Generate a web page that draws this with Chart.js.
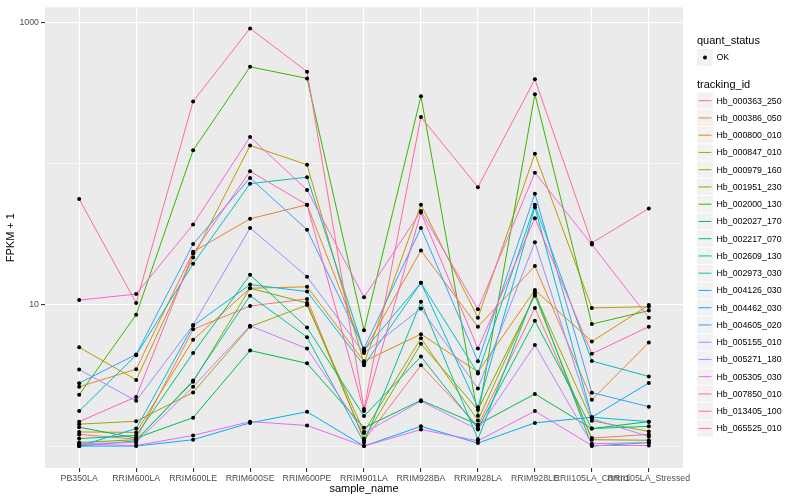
<!DOCTYPE html>
<html>
<head>
<meta charset="utf-8">
<title>FPKM by sample</title>
<script src="https://cdn.jsdelivr.net/npm/chart.js@4.4.0/dist/chart.umd.min.js"></script>
<style>
  html, body { margin: 0; padding: 0; background: #fff; }
  #wrap { width: 800px; height: 500px; }
</style>
</head>
<body>
<div id="wrap"><canvas id="chart" width="800" height="500"></canvas></div>
<script>
// --- data (FPKM + 1) ---
const samples = ['PB350LA', 'RRIM600LA', 'RRIM600LE', 'RRIM600SE', 'RRIM600PE', 'RRIM901LA',
                 'RRIM928BA', 'RRIM928LA', 'RRIM928LE', 'RRII105LA_Control', 'RRII105LA_Stressed'];

const trackingIds = ['Hb_000363_250', 'Hb_000386_050', 'Hb_000800_010', 'Hb_000847_010', 'Hb_000979_160',
                     'Hb_001951_230', 'Hb_002000_130', 'Hb_002027_170', 'Hb_002217_070', 'Hb_002609_130',
                     'Hb_002973_030', 'Hb_004126_030', 'Hb_004462_030', 'Hb_004605_020', 'Hb_005155_010',
                     'Hb_005271_180', 'Hb_005305_030', 'Hb_007850_010', 'Hb_013405_100', 'Hb_065525_010'];

// ggplot default hue palette for 20 groups
const lineColors = ['#F8766D', '#EA8331', '#D89000', '#C09B00', '#A3A500', '#7CAE00', '#39B600', '#00BB4E',
                    '#00BF7D', '#00C1A3', '#00BFC4', '#00BAE0', '#00B0F6', '#35A2FF', '#9590FF', '#C77CFF',
                    '#E76BF3', '#FA62DB', '#FF62BC', '#FF6C91'];

const hb000363_250 = [1.21, 1.12, 6.7, 9.8, 11.0, 1.10, 3.73, 1.39, 9.5, 1.14, 1.21];
const hb000386_050 = [2.63, 3.5, 23.7, 40.6, 51, 4.7, 24.2, 7.0, 18.8, 2.13, 5.4];
const hb000800_010 = [1.26, 1.25, 5.65, 13.1, 13.4, 3.98, 6.2, 3.35, 12.7, 5.5, 9.95];
const hb000847_010 = [5.0, 2.94, 21.6, 134, 98, 3.85, 51, 8.1, 117, 9.5, 9.7];
const hb000979_160 = [1.43, 1.50, 2.40, 7.0, 9.95, 1.26, 5.8, 1.52, 11.9, 1.51, 1.27];
const hb001951_230 = [1.06, 1.11, 2.85, 13.1, 10.3, 1.13, 5.3, 1.81, 11.6, 1.11, 1.10];
const hb002000_130 = [2.31, 8.5, 124, 483, 400, 6.6, 299, 1.64, 309, 7.3, 9.1];
const hb002027_170 = [1.36, 1.14, 1.59, 4.75, 3.85, 1.35, 2.11, 1.42, 2.34, 1.33, 1.49];
const hb002217_070 = [1.13, 1.19, 4.55, 16.3, 6.9, 1.63, 4.3, 1.33, 7.7, 1.33, 1.38];
const hb002609_130 = [1.0, 1.09, 2.91, 11.6, 5.9, 1.06, 10.5, 1.12, 12.3, 1.0, 1.06];
const hb002973_030 = [1.77, 4.4, 19.5, 72, 80, 4.75, 14.3, 3.27, 51, 4.0, 3.11];
const hb004126_030 = [1.0, 1.33, 7.1, 13.9, 12.4, 3.73, 14.3, 1.88, 49, 1.60, 1.49];
const hb004462_030 = [1.0, 1.0, 1.11, 1.46, 1.75, 1.0, 1.38, 1.05, 1.46, 1.60, 2.8];
const hb004605_020 = [2.79, 4.45, 26.9, 79, 34, 4.9, 35, 3.98, 61, 2.39, 1.90];
const hb005155_010 = [3.48, 2.09, 7.2, 35, 15.8, 4.55, 9.4, 2.56, 27.7, 1.56, 1.17];
const hb005271_180 = [1.04, 1.06, 2.63, 7.1, 4.9, 1.24, 2.08, 1.31, 5.2, 1.04, 1.06];
const hb005305_030 = [1.03, 1.01, 1.19, 1.49, 1.40, 1.0, 1.31, 1.09, 1.77, 1.01, 1.01];
const hb007850_010 = [10.8, 11.9, 37, 154, 65, 11.3, 46, 9.3, 86, 26.7, 8.1];
const hb013405_100 = [1.49, 2.23, 23.1, 88, 51, 1.77, 45, 4.9, 41, 4.5, 7.0];
const hb065525_010 = [56, 10.3, 275, 903, 446, 1.83, 213, 68, 394, 27.4, 48];

const seriesValues = [hb000363_250, hb000386_050, hb000800_010, hb000847_010, hb000979_160,
                      hb001951_230, hb002000_130, hb002027_170, hb002217_070, hb002609_130,
                      hb002973_030, hb004126_030, hb004462_030, hb004605_020, hb005155_010,
                      hb005271_180, hb005305_030, hb007850_010, hb013405_100, hb065525_010];

const quantStatus = ['OK'];
const yTicks = [1, 10, 100, 1000];      // 1 and 100 are minor grid lines
const yMajor = [10, 1000];
// ---------------------------------------------

const FONT = '"Liberation Sans", Arial, Helvetica, sans-serif';

// one line per tracking_id, drawn in ggplot order (later groups on top)
const datasets = seriesValues.map((vals, i) => ({
    type: 'line',
    label: trackingIds[i],
    data: vals.map((v, j) => ({ x: j, y: v })),
    borderColor: lineColors[i],
    borderWidth: 1,
    pointRadius: 0,
    tension: 0,
    fill: false,
    order: 100 - i
}));

// the black points (quant_status = OK) sit on top of every line
datasets.push({
    type: 'scatter',
    label: quantStatus[0],
    data: seriesValues.flatMap(vals => vals.map((v, j) => ({ x: j, y: v }))),
    backgroundColor: '#000',
    borderColor: '#000',
    borderWidth: 0,
    pointRadius: 2,
    order: -1
});

// grey panel like theme_gray
const panelBg = {
    id: 'panelBg',
    beforeDraw(chart) {
        const { ctx, chartArea: a } = chart;
        ctx.save();
        ctx.fillStyle = '#fff';
        ctx.fillRect(0, 0, chart.width, chart.height);
        ctx.fillStyle = '#EBEBEB';
        ctx.fillRect(a.left, a.top, a.right - a.left, a.bottom - a.top);
        ctx.restore();
    }
};

// ggplot style legend on the right
const ggLegend = {
    id: 'ggLegend',
    afterDraw(chart) {
        const c = chart.ctx;
        const x0 = 697, boxW = 16, step = 17.25;
        c.save();
        c.fillStyle = '#000';
        c.font = '11px ' + FONT;
        c.textBaseline = 'alphabetic';
        c.fillText('quant_status', x0, 44);

        c.fillStyle = '#F2F2F2';
        c.fillRect(x0, 49, boxW, 17);
        c.fillStyle = '#000';
        c.beginPath();
        c.arc(x0 + boxW / 2, 57.5, 2, 0, Math.PI * 2);
        c.fill();
        c.font = '8.8px ' + FONT;
        c.textBaseline = 'middle';
        c.fillText(quantStatus[0], 716.5, 58);

        c.font = '11px ' + FONT;
        c.textBaseline = 'alphabetic';
        c.fillText('tracking_id', x0, 88);

        c.font = '8.8px ' + FONT;
        c.textBaseline = 'middle';
        chart.data.datasets.forEach((ds, i) => {
            if (ds.type !== 'line') return;
            const cy = 100.7 + step * i;
            c.fillStyle = '#F2F2F2';
            c.fillRect(x0, cy - step / 2 + 0.5, boxW, step - 1);
            c.strokeStyle = ds.borderColor;
            c.lineWidth = 1;
            c.beginPath();
            c.moveTo(x0 + 1.5, cy);
            c.lineTo(x0 + boxW - 1.5, cy);
            c.stroke();
            c.fillStyle = '#000';
            c.fillText(ds.label, 716.5, cy + 0.5);
        });
        c.restore();
    }
};

const isMajor = ctx => ctx.tick && yMajor.includes(ctx.tick.value);

new Chart(document.getElementById('chart'), {
    type: 'line',
    data: { datasets },
    options: {
        responsive: false,
        animation: false,
        layout: { padding: { top: 5, right: 117, left: 0, bottom: 0 } },
        plugins: {
            legend: { display: false },
            tooltip: { enabled: false }
        },
        scales: {
            x: {
                type: 'linear',
                min: -0.6,
                max: samples.length - 1 + 0.6,
                afterBuildTicks: s => { s.ticks = samples.map((_, i) => ({ value: i })); },
                afterFit: s => { s.height = 32; },
                border: { display: false },
                grid: { color: '#fff', lineWidth: 1.1, tickLength: 4, tickColor: '#333' },
                ticks: {
                    autoSkip: false, maxRotation: 0, minRotation: 0, padding: 1,
                    color: '#4D4D4D', font: { family: FONT, size: 8.8 },
                    callback: v => samples[v]
                },
                title: {
                    display: true, text: 'sample_name', color: '#000',
                    font: { family: FONT, size: 11 }, padding: { top: 0, bottom: 4 }
                }
            },
            y: {
                type: 'logarithmic',
                min: 0.718,
                max: 1274,
                afterBuildTicks: s => { s.ticks = yTicks.map(v => ({ value: v })); },
                afterFit: s => { s.width = 45; },
                border: { display: false },
                grid: {
                    color: '#fff',
                    lineWidth: ctx => isMajor(ctx) ? 1.1 : 0.55,
                    tickLength: 4,
                    tickColor: ctx => isMajor(ctx) ? '#333' : 'rgba(0,0,0,0)'
                },
                ticks: {
                    padding: 2, color: '#4D4D4D', font: { family: FONT, size: 8.8 },
                    callback: v => yMajor.includes(v) ? String(v) : ''
                },
                title: {
                    display: true, text: 'FPKM + 1', color: '#000',
                    font: { family: FONT, size: 11 }, padding: { top: 4, bottom: 0 }
                }
            }
        }
    },
    plugins: [panelBg, ggLegend]
});
</script>
</body>
</html>
